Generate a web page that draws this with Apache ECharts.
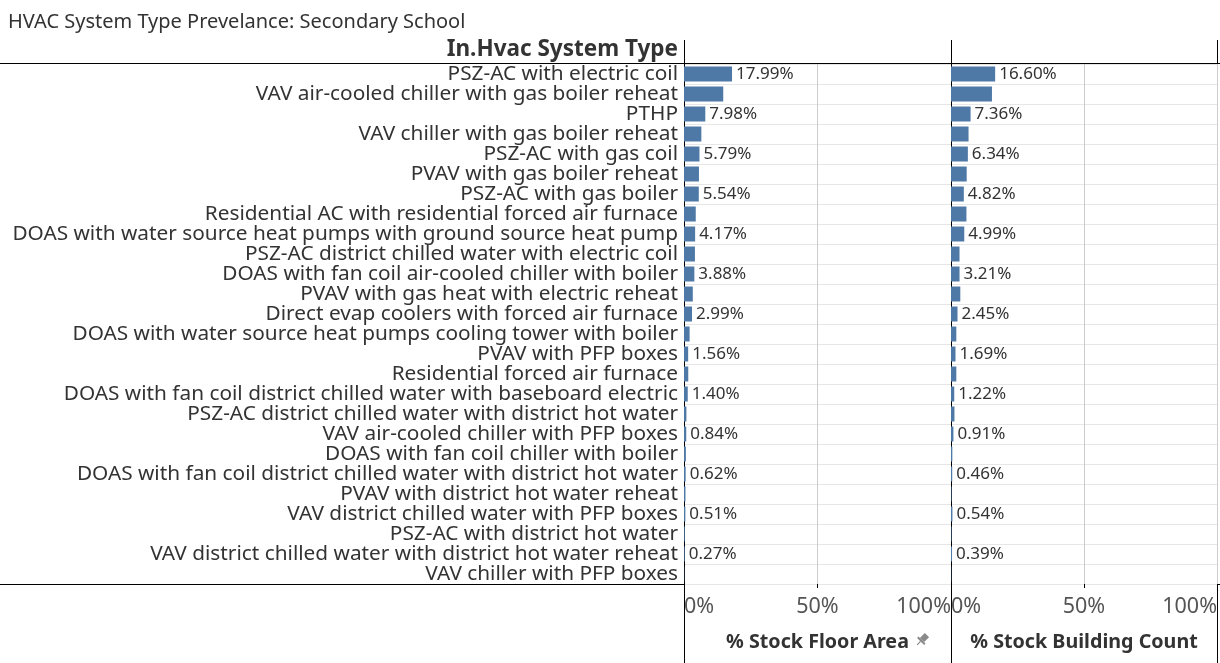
<!DOCTYPE html>
<html>
<head>
<meta charset="utf-8">
<script src="https://cdn.jsdelivr.net/npm/echarts@6/dist/echarts.min.js"></script>
<style>
  html, body { margin: 0; padding: 0; background: #fff; }
  #chart { width: 1220px; height: 663px; }
</style>
</head>
<body>
<div id="chart"></div>
<script>
// system types, top to bottom
var systemTypes = [
    "PSZ-AC with electric coil",
    "VAV air-cooled chiller with gas boiler reheat",
    "PTHP",
    "VAV chiller with gas boiler reheat",
    "PSZ-AC with gas coil",
    "PVAV with gas boiler reheat",
    "PSZ-AC with gas boiler",
    "Residential AC with residential forced air furnace",
    "DOAS with water source heat pumps with ground source heat pump",
    "PSZ-AC district chilled water with electric coil",
    "DOAS with fan coil air-cooled chiller with boiler",
    "PVAV with gas heat with electric reheat",
    "Direct evap coolers with forced air furnace",
    "DOAS with water source heat pumps cooling tower with boiler",
    "PVAV with PFP boxes",
    "Residential forced air furnace",
    "DOAS with fan coil district chilled water with baseboard electric",
    "PSZ-AC district chilled water with district hot water",
    "VAV air-cooled chiller with PFP boxes",
    "DOAS with fan coil chiller with boiler",
    "DOAS with fan coil district chilled water with district hot water",
    "PVAV with district hot water reheat",
    "VAV district chilled water with PFP boxes",
    "PSZ-AC with district hot water",
    "VAV district chilled water with district hot water reheat",
    "VAV chiller with PFP boxes"
];
// % stock floor area
var floorArea = [17.99, 14.7, 7.98, 6.5, 5.79, 5.6, 5.54, 4.4, 4.17, 4.1, 3.88, 3.3, 2.99,
                 2.1, 1.56, 1.6, 1.40, 0.9, 0.84, 0.7, 0.62, 0.55, 0.51, 0.3, 0.27, 0.1];
// % stock building count
var buildingCount = [16.60, 15.4, 7.36, 6.6, 6.34, 5.9, 4.82, 5.8, 4.99, 3.2, 3.21, 3.5, 2.45,
                     2.0, 1.69, 2.0, 1.22, 1.3, 0.91, 0.5, 0.46, 0.2, 0.54, 0.2, 0.39, 0.1];
var tickValues = [0, 50, 100];

var blue = "#4e79a7";
var txt = "#333333";
var font = "Noto Sans";

var myChart = echarts.init(document.getElementById("chart"));

function xAxisOf(gridIdx, title) {
    return {
        gridIndex: gridIdx,
        type: "value",
        min: tickValues[0],
        max: tickValues[tickValues.length - 1],
        interval: tickValues[1] - tickValues[0],
        position: "bottom",
        axisLine: { show: false },
        axisTick: { show: true, length: 4, lineStyle: { color: "#000" } },
        axisLabel: {
            color: "#555",
            fontFamily: font,
            fontSize: 21.5,
            margin: 12,
            alignMinLabel: "left",
            alignMaxLabel: "right",
            formatter: function (v) { return v + "%"; }
        },
        splitLine: { show: true, lineStyle: { color: "#cccccc", width: 1 } },
        name: title,
        nameLocation: "middle",
        nameGap: 48,
        nameTextStyle: { color: txt, fontFamily: font, fontSize: 19.7, fontWeight: "bold" }
    };
}

function yAxisOf(gridIdx, showLabels) {
    return {
        gridIndex: gridIdx,
        type: "category",
        inverse: true,
        data: systemTypes,
        axisLine: { show: true, lineStyle: { color: "#000", width: 1 } },
        axisTick: { show: false },
        splitLine: { show: true, lineStyle: { color: "#e6e6e6", width: 1 } },
        axisLabel: {
            show: showLabels,
            interval: 0,
            color: txt,
            fontFamily: font,
            fontSize: 20.8,
            margin: 6,
            padding: [3, 0, 0, 0]
        }
    };
}

function seriesOf(idx, values) {
    return {
        type: "bar",
        xAxisIndex: idx,
        yAxisIndex: idx,
        data: values,
        barWidth: 15,
        itemStyle: { color: blue },
        silent: true,
        label: {
            show: true,
            position: "right",
            distance: 4,
            color: txt,
            fontFamily: font,
            fontSize: 17,
            padding: [3, 0, 0, 0],
            // only every other row carries a label
            formatter: function (p) {
                return p.dataIndex % 2 === 0 ? p.value.toFixed(2) + "%" : "";
            }
        }
    };
}

var option = {
    animation: false,
    title: {
        text: "HVAC System Type Prevelance: Secondary School",
        left: 3,
        top: 7,
        textStyle: { color: txt, fontFamily: font, fontSize: 20, fontWeight: "normal" }
    },
    grid: [
        { left: 684, top: 64, width: 267, height: 520, containLabel: false },
        { left: 951, top: 64, width: 267, height: 520, containLabel: false }
    ],
    xAxis: [xAxisOf(0, "% Stock Floor Area"), xAxisOf(1, "% Stock Building Count")],
    yAxis: [yAxisOf(0, true), yAxisOf(1, false)],
    series: [seriesOf(0, floorArea), seriesOf(1, buildingCount)],
    graphic: [
        // row header
        { type: "text", right: 1220 - 678, top: 38,
          style: { text: "In.Hvac System Type", fill: txt, font: "bold 22.5px " + font } },
        // pin glyph next to the sorted field
        { type: "group", x: 922, y: 640, rotation: -Math.PI / 4, children: [
            { type: "rect", shape: { x: -3, y: -7, width: 6, height: 7 }, style: { fill: "#8a8a8a" } },
            { type: "rect", shape: { x: -5, y: 0, width: 10, height: 2 }, style: { fill: "#8a8a8a" } },
            { type: "line", shape: { x1: 0, y1: 2, x2: 0, y2: 7 }, style: { stroke: "#8a8a8a", lineWidth: 1.2 } }
        ] },
        // frame lines
        { type: "line", shape: { x1: 0, y1: 63.5, x2: 1220, y2: 63.5 }, style: { stroke: "#000", lineWidth: 1 } },
        { type: "line", shape: { x1: 0, y1: 584.5, x2: 1220, y2: 584.5 }, style: { stroke: "#000", lineWidth: 1 } },
        { type: "line", shape: { x1: 684.5, y1: 40, x2: 684.5, y2: 663 }, style: { stroke: "#000", lineWidth: 1 } },
        { type: "line", shape: { x1: 951.5, y1: 40, x2: 951.5, y2: 663 }, style: { stroke: "#000", lineWidth: 1 } },
        { type: "line", shape: { x1: 1217.5, y1: 40, x2: 1217.5, y2: 663 }, style: { stroke: "#000", lineWidth: 1 } }
    ]
};
myChart.setOption(option);
window.addEventListener("resize", function () {
    myChart.resize();
});
</script>
</body>
</html>
